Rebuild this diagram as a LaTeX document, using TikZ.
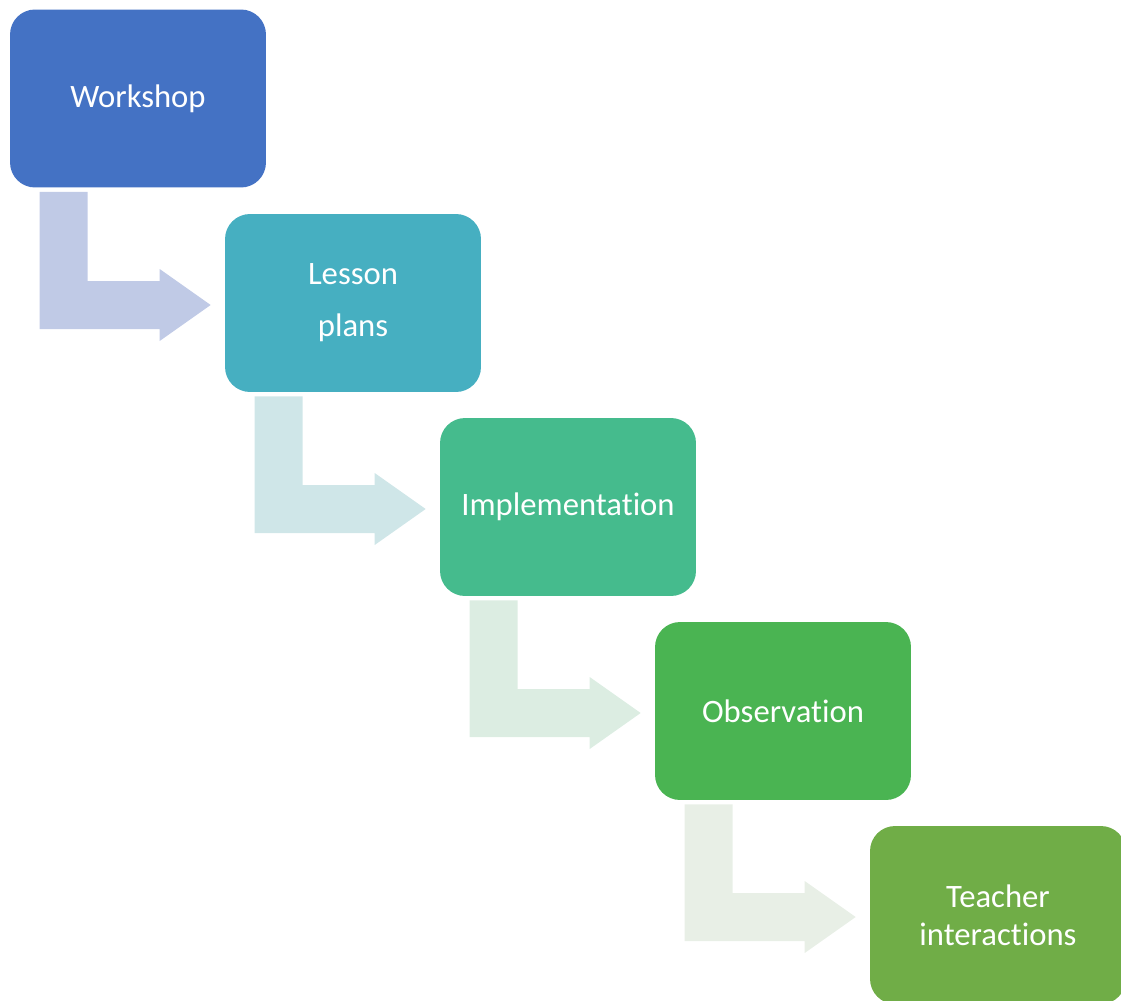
\documentclass[tikz,border=0pt]{standalone}
\usepackage{fontspec}
\setmainfont{Carlito}[Ligatures=NoCommon]
\usepackage{tikz}
\usetikzlibrary{calc,positioning}
\usepackage{xcolor}

\definecolor{workshopblue}{HTML}{4472C4}
\definecolor{lessonteal}{HTML}{46AFC1}
\definecolor{implgreen}{HTML}{45BB8D}
\definecolor{obsgreen}{HTML}{4AB452}
\definecolor{teachgreen}{HTML}{70AD47}
\definecolor{arrowA}{HTML}{C0CAE6}
\definecolor{arrowB}{HTML}{CFE6E8}
\definecolor{arrowC}{HTML}{DCEDE2}
\definecolor{arrowD}{HTML}{E8EFE6}

\begin{document}
\begin{tikzpicture}[
    x = 0.02cm,
    y = -0.02cm,
    stage/.style={rectangle, rounded corners=0.5cm, minimum width=5.12cm,
        minimum height=3.56cm, text=white, align=center,
        font=\fontsize{18.6}{23}\selectfont}
]
    \useasboundingbox (0,0) rectangle (1121,1000);

    \node[stage, fill=workshopblue] (w) at (138,98.5) {Workshop};
    \node[stage, fill=lessonteal, font=\fontsize{18.6}{26}\selectfont] (l) at (353,303) {Lesson\\[3.5pt]plans};
    \node[stage, fill=implgreen] (i) at (568,507) {Implementation};
    \node[stage, fill=obsgreen] (o) at (783,711) {Observation};
    \begin{scope}
        \clip (0,0) rectangle (1121,1000);
        \node[stage, fill=teachgreen, font=\fontsize{18.6}{21.6}\selectfont] (t) at (998,915) {Teacher\\interactions};
    \end{scope}

    % bent arrows between the stages
    \foreach \a/\b/\c in {w/l/arrowA, l/i/arrowB, i/o/arrowC, o/t/arrowD}
        \fill[\c] ($(\a.south west)+(30,4)$) -- ($(\a.south west)+(78,4)$)
            |- ($(\b.west)+(-65,-22)$) -- ($(\b.west)+(-65,-34)$)
            -- ($(\b.west)+(-14,2)$) -- ($(\b.west)+(-65,38)$)
            -- ($(\b.west)+(-65,26)$) -| cycle;
\end{tikzpicture}
\end{document}
